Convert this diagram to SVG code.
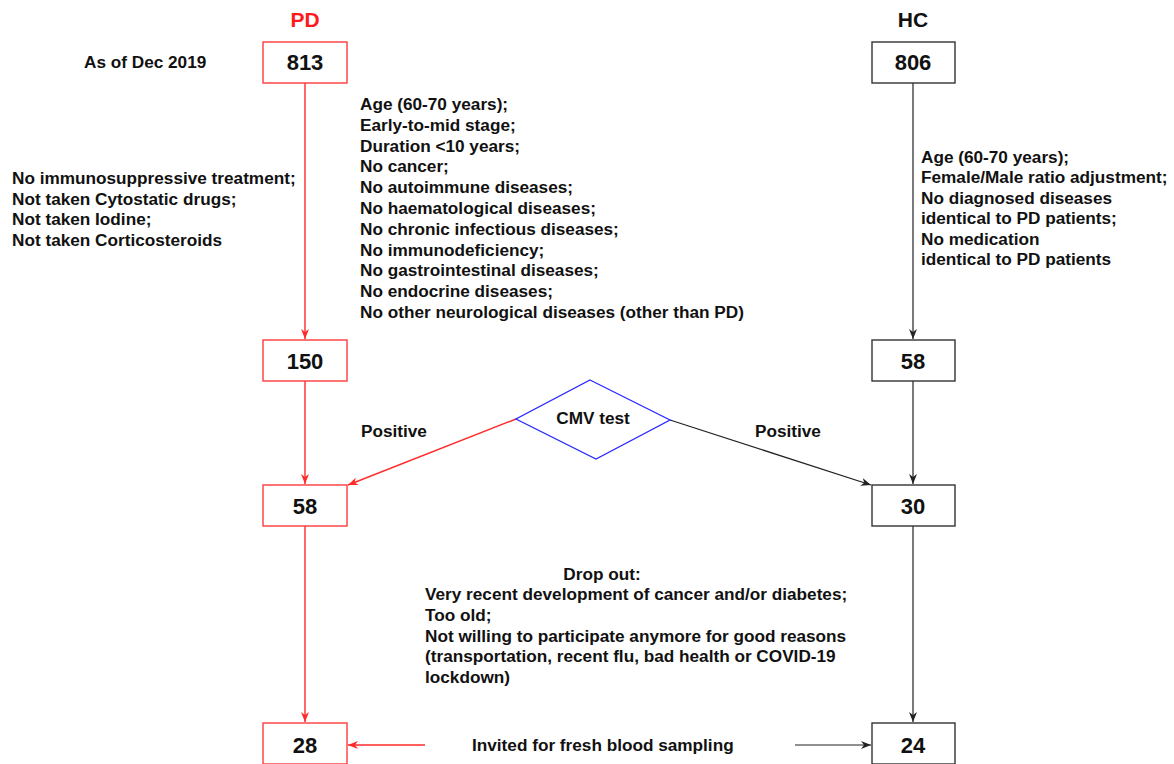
<svg xmlns="http://www.w3.org/2000/svg" width="1174" height="764" viewBox="0 0 1174 764">
  <style>
    text { font-family: "Liberation Sans", Arial, sans-serif; font-weight: bold; fill: #111; }
    .crit { font-size: 17.2px; }
    .num { font-size: 22px; text-anchor: middle; }
    .title { font-size: 21px; text-anchor: middle; }
    .pdbox { fill: #fff; stroke: #ff3b3b; stroke-width: 1.4; }
    .hcbox { fill: #fff; stroke: #333; stroke-width: 1.4; }
    .red { stroke: #ff2a2a; stroke-width: 1.4; fill: none; }
    .blk { stroke: #222; stroke-width: 1.2; fill: none; }
  </style>
  <defs>
    <marker id="arrRed" viewBox="0 0 10 8" refX="10" refY="4" markerWidth="10" markerHeight="8" markerUnits="userSpaceOnUse" orient="auto">
      <path d="M0,0 L10,4 L0,8 L3,4 z" fill="#ff2a2a"/>
    </marker>
    <marker id="arrBlk" viewBox="0 0 10 8" refX="10" refY="4" markerWidth="10" markerHeight="8" markerUnits="userSpaceOnUse" orient="auto">
      <path d="M0,0 L10,4 L0,8 L3,4 z" fill="#222"/>
    </marker>
  </defs>

  <rect width="1174" height="764" fill="#fff"/>

  <!-- column titles -->
  <text class="title" x="305" y="27" style="fill:#ff1a1a">PD</text>
  <text class="title" x="913" y="27">HC</text>

  <!-- connectors -->
  <g id="connectors">
    <line class="red" x1="305" y1="83" x2="305" y2="339" marker-end="url(#arrRed)"/>
    <line class="blk" x1="913" y1="83" x2="913" y2="339" marker-end="url(#arrBlk)"/>
    <line class="red" x1="305" y1="381" x2="305" y2="484" marker-end="url(#arrRed)"/>
    <line class="blk" x1="913" y1="381" x2="913" y2="484" marker-end="url(#arrBlk)"/>
    <line class="red" x1="516" y1="419" x2="348" y2="485" marker-end="url(#arrRed)"/>
    <line class="blk" x1="670" y1="420" x2="871" y2="485" marker-end="url(#arrBlk)"/>
    <line class="red" x1="305" y1="526" x2="305" y2="722" marker-end="url(#arrRed)"/>
    <line class="blk" x1="913" y1="526" x2="913" y2="722" marker-end="url(#arrBlk)"/>
    <line class="red" x1="425" y1="745" x2="348" y2="745" marker-end="url(#arrRed)"/>
    <line class="blk" x1="795" y1="745" x2="871" y2="745" marker-end="url(#arrBlk)"/>
  </g>

  <!-- PD column -->
  <g id="pd813"><rect class="pdbox" x="263" y="42" width="84" height="41"/><text class="num" x="305" y="70">813</text></g>
  <g id="pd150"><rect class="pdbox" x="263" y="340" width="84" height="41"/><text class="num" x="305" y="369">150</text></g>
  <g id="pd58"><rect class="pdbox" x="263" y="485" width="84" height="41"/><text class="num" x="305" y="514">58</text></g>
  <g id="pd28"><rect class="pdbox" x="263" y="723" width="84" height="41"/><text class="num" x="305" y="753">28</text></g>

  <!-- HC column -->
  <g id="hc806"><rect class="hcbox" x="872" y="42" width="83" height="41"/><text class="num" x="913" y="70">806</text></g>
  <g id="hc58"><rect class="hcbox" x="872" y="340" width="83" height="41"/><text class="num" x="913" y="369">58</text></g>
  <g id="hc30"><rect class="hcbox" x="872" y="485" width="83" height="41"/><text class="num" x="913" y="514">30</text></g>
  <g id="hc24"><rect class="hcbox" x="872" y="723" width="83" height="41"/><text class="num" x="913" y="753">24</text></g>

  <!-- CMV test decision -->
  <g id="cmv">
    <polygon points="590,380 670,420 596,459 516,419" fill="#fff" stroke="#2a2aff" stroke-width="1.3"/>
    <text class="crit" x="593" y="424" text-anchor="middle">CMV test</text>
  </g>

  <!-- labels -->
  <g id="labels">
    <text class="crit" x="84" y="68">As of Dec 2019</text>
    <text class="crit" x="361" y="437">Positive</text>
    <text class="crit" x="755" y="437">Positive</text>
    <text class="crit" x="472" y="751">Invited for fresh blood sampling</text>
  </g>

  <!-- PD treatment exclusions -->
  <g id="pdTreatment">
    <text class="crit" x="12" y="184">No immunosuppressive treatment;</text>
    <text class="crit" x="12" y="205">Not taken Cytostatic drugs;</text>
    <text class="crit" x="12" y="225">Not taken Iodine;</text>
    <text class="crit" x="12" y="246">Not taken Corticosteroids</text>
  </g>

  <!-- PD inclusion criteria -->
  <g id="pdCriteria">
    <text class="crit" x="360" y="110">Age (60-70 years);</text>
    <text class="crit" x="360" y="131">Early-to-mid stage;</text>
    <text class="crit" x="360" y="152">Duration &lt;10 years;</text>
    <text class="crit" x="360" y="172">No cancer;</text>
    <text class="crit" x="360" y="193">No autoimmune diseases;</text>
    <text class="crit" x="360" y="214">No haematological diseases;</text>
    <text class="crit" x="360" y="235">No chronic infectious diseases;</text>
    <text class="crit" x="360" y="256">No immunodeficiency;</text>
    <text class="crit" x="360" y="276">No gastrointestinal diseases;</text>
    <text class="crit" x="360" y="297">No endocrine diseases;</text>
    <text class="crit" x="360" y="318">No other neurological diseases (other than PD)</text>
  </g>

  <!-- HC inclusion criteria -->
  <g id="hcCriteria">
    <text class="crit" x="921" y="163">Age (60-70 years);</text>
    <text class="crit" x="921" y="183">Female/Male ratio adjustment;</text>
    <text class="crit" x="921" y="204">No diagnosed diseases</text>
    <text class="crit" x="921" y="224">identical to PD patients;</text>
    <text class="crit" x="921" y="245">No medication</text>
    <text class="crit" x="921" y="265">identical to PD patients</text>
  </g>

  <!-- drop-out reasons -->
  <g id="dropout">
    <text class="crit" x="602" y="580" text-anchor="middle">Drop out:</text>
    <text class="crit" x="425" y="600">Very recent development of cancer and/or diabetes;</text>
    <text class="crit" x="425" y="621">Too old;</text>
    <text class="crit" x="425" y="642">Not willing to participate anymore for good reasons</text>
    <text class="crit" x="425" y="662">(transportation, recent flu, bad health or COVID-19</text>
    <text class="crit" x="425" y="683">lockdown)</text>
  </g>
</svg>
